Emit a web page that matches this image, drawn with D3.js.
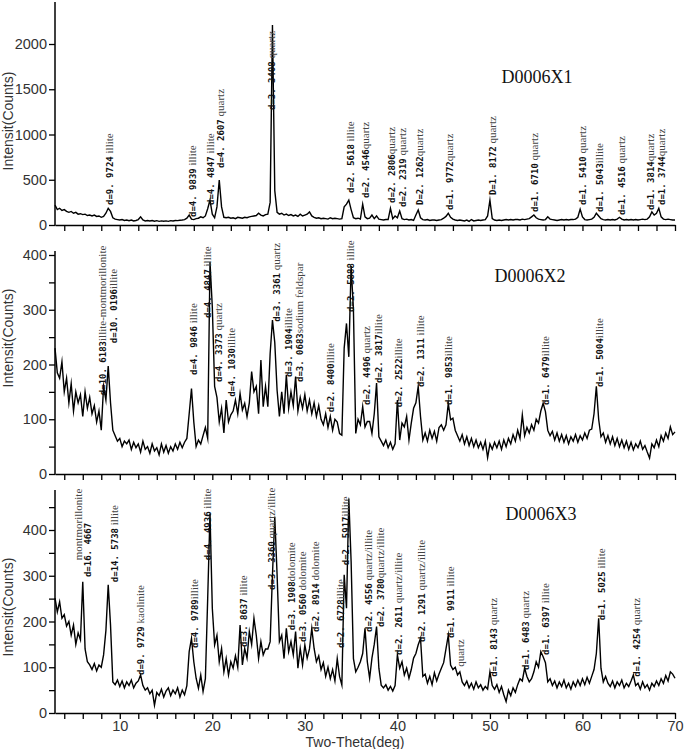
<!DOCTYPE html>
<html><head><meta charset="utf-8">
<script src="https://cdn.jsdelivr.net/npm/d3@7"></script>
<style>
body{margin:0;background:#fff}
svg{display:block}
.dsp{font-family:"DejaVu Sans Mono",monospace;font-size:9px;font-weight:bold;fill:#111}
.min{font-family:"Liberation Serif",serif;font-size:11px;fill:#444}
.tick text{font-family:"Liberation Sans",Arial,sans-serif;font-size:14.5px;fill:#333}
.ttl{font-family:"Liberation Sans",Arial,sans-serif;font-size:14px;fill:#333}
.name{font-family:"Liberation Serif",serif;font-size:18px;fill:#111}
</style>
</head><body>
<svg id="chart" width="685" height="749"></svg>
<script>
// scan: 2-theta from 3 to 70 deg, step 0.25 deg
const scanStart = 3, scanStep = 0.25;

const intensityX1 = [
220,170,185,160, 170,150,140,150, 130,140,120,125, 115,120,105,110, 100,110,95,100,
85,95,130,185, 150,80,65,60, 55,60,50,55, 48,55,45,50, 60,90,55,45,
50,45,50,42, 48,40,45,42, 45,40,48,45, 50,48,52,55, 60,75,110,65,
60,70,75,90, 80,100,180,275, 120,80,200,497, 200,85,80,85, 75,80,70,85,
80,75,85,80, 90,95,100,105, 130,110,100,115, 120,250,2210,380, 140,120,130,110,
120,105,115,100, 110,95,120,100, 110,120,145,100, 85,75,80,70, 75,70,65,80,
70,75,70,65, 70,200,230,275, 170,80,70,75, 65,230,90,70, 75,110,70,100,
65,60,55,60, 60,185,70,100, 80,155,70,60, 65,55,60,50, 110,165,80,60,
55,60,50,55, 55,50,55,60, 75,95,130,85, 65,55,50,55, 50,45,55,40,
60,45,50,55, 50,55,60,100, 275,70,55,50, 55,50,55,60, 55,60,55,60,
60,55,65,60, 65,70,90,110, 80,65,60,55, 60,90,65,60, 55,50,55,60,
55,60,55,60, 60,65,85,175, 90,60,55,60, 65,85,130,100, 70,60,55,60,
55,60,55,65, 85,65,55,60, 55,60,55,60, 55,60,65,60, 65,90,145,110,
130,185,90,65, 60,65,60,55, 55];

const intensityX2 = [
230,185,175,205, 150,175,130,165, 115,150,130,145, 105,150,120,140, 110,125,95,115,
80,160,135,197, 130,80,70,60, 65,50,60,55, 62,45,58,48, 55,40,60,45,
50,38,55,42, 48,35,55,40, 52,38,50,42, 55,45,58,48, 58,65,110,156,
95,50,62,55, 70,85,65,387, 305,160,140,95, 120,75,135,95, 108,115,135,110,
147,117,129,105, 130,187,150,160, 110,208,123,160, 123,220,281,240, 153,105,150,110,
181,120,150,125, 178,115,140,120, 145,115,135,110, 130,105,125,100, 90,110,85,105,
80,100,95,74, 71,230,275,214, 380,300,74,100, 90,123,86,96, 96,74,110,166,
68,60,52,62, 48,58,45,55, 135,62,93,86, 105,62,93,120, 130,160,105,62,
75,60,80,65, 78,60,85,90, 80,90,129,99, 102,80,70,60, 72,55,68,52,
65,50,62,48, 58,45,60,30, 55,45,58,48, 60,45,62,50, 65,55,72,60,
80,65,108,70, 85,75,90,80, 100,93,115,129, 114,80,70,78, 62,75,60,72,
58,70,55,68, 60,72,58,70, 62,75,65,80, 82,110,160,100, 68,75,58,70,
55,68,52,65, 50,62,48,60, 45,58,44,55, 48,60,45,52, 40,29,55,48,
62,50,70,60, 75,65,86,72, 77];

const intensityX3 = [
251,221,243,207, 215,190,200,170, 192,150,175,160, 287,140,112,105, 95,108,92,105,
100,127,180,280, 192,68,62,72, 58,70,55,68, 60,72,55,65, 70,83,60,50,
55,42,50,17, 45,38,52,35, 48,55,38,50, 42,55,35,50, 40,60,134,163,
112,76,54,83, 47,75,250,436, 229,149,170,112, 141,90,119,83, 112,98,125,100,
192,105,141,120, 178,150,207,170, 119,156,127,140, 140,156,302,429, 302,156,170,119,
185,134,156,127, 178,98,141,105, 149,120,140,185, 141,112,125,95, 110,80,100,75,
95,70,119,80, 61,302,229,469, 331,119,90,100, 112,130,185,112, 76,120,150,189,
98,61,55,62, 50,58,48,60, 127,98,112,83, 98,76,95,120, 130,149,163,80,
85,65,80,62, 88,70,85,98, 110,140,170,105, 95,100,83,90, 68,60,70,55,
65,52,68,55, 62,50,58,52, 90,60,52,62, 45,58,40,25, 50,38,55,45,
62,75,70,98, 80,68,75,90, 112,100,134,123, 110,68,75,60, 70,55,68,58,
72,55,65,52, 68,58,72,60, 75,62,78,65, 80,95,130,207, 98,68,80,65,
58,70,55,68, 60,72,55,65, 58,70,83,60, 65,52,68,55, 62,50,65,58,
70,60,75,65, 82,70,90,85, 76];

const sampleNames = ["D0006X1", "D0006X2", "D0006X3"];
const xTickLabels = [10, 20, 30, 40, 50, 60, 70];
const yTicksX1 = [0, 500, 1000, 1500, 2000];
const yTicksX2 = [0, 100, 200, 300, 400];
const yTicksX3 = [0, 100, 200, 300, 400];
const yTitle = "Intensit(Counts)";
const xTitle = "Two-Theta(deg)";

// peak annotations: [2-theta, counts at label foot, d-spacing, phase]
const peaksX1 = [
 [8.62, 221, "d=9. 9724", " illite"],
 [17.67, 88, "d=4. 9839", " illite"],
 [19.57, 221, "d=4. 4847", " illite"],
 [20.65, 630, "d=4. 2607", " quartz"],
 [26.17, 1271, "d=3. 3408", " quartz"],
 [34.71, 354, "d=2. 5618", " illite"],
 [36.33, 298, "d=2. 4546", "quartz"],
 [39.14, 243, "d=2. 2806", "quartz"],
 [40.30, 199, "d=2. 2319", " quartz"],
 [42.21, 221, "D=2. 1262", "quartz"],
 [45.41, 166, "d=1. 9772", "quartz"],
 [50.03, 331, "D=1. 8172", " quartz"],
 [54.64, 144, "d=1. 6710", " quartz"],
 [59.76, 221, "d=1. 5410", " quartz"],
 [61.56, 144, "d=1. 5043", "illite"],
 [63.94, 110, "d=1. 4516", " quartz"],
 [67.14, 166, "d=1. 3814", "quartz"],
 [68.33, 221, "d=1. 3744", "quartz"]
];
const peaksX2 = [
 [7.86, 144, "d=10. 6183", "illite-montmorillonite"],
 [9.05, 239, "d=10. 0196", "illite"],
 [17.78, 181, "d=4. 9846", " illite"],
 [19.22, 285, "d=4. 4847", " illite"],
 [20.48, 168, "d=4. 3373", " quartz"],
 [21.84, 141, "d=4. 1030", "illite"],
 [26.68, 278, "d=3. 3361", " quartz"],
 [28.05, 177, "d=3. 1904", "illite"],
 [29.24, 168, "d=3. 0683", "sodium feldspar"],
 [32.55, 113, "d=2. 8400", "illite"],
 [34.71, 296, "d=2. 5888", " illite"],
 [36.44, 126, "d=2. 4496", " quartz"],
 [37.78, 166, "d=2. 3817", "illite"],
 [39.94, 122, "d=2. 2522", "illite"],
 [42.28, 159, "d=2. 1311", " illite"],
 [45.34, 126, "d=1. 9853", "illite"],
 [55.79, 126, "d=1. 6479", "illite"],
 [61.56, 159, "d=1. 5004", "illite"]
];
const peaksX3 = [
 [5.27, 334, "", "montmorillonite"],
 [6.24, 297, "d=16. 4667", ""],
 [9.24, 286, "d=14. 5738", " illite"],
 [12.00, 83, "d=9. 9729", " kaolinite"],
 [17.89, 142, "d=4. 9789", "illite"],
 [19.22, 334, "d=4. 4936", " illite"],
 [23.18, 144, "d=3. 8637", " illite"],
 [26.17, 269, "d=3. 3360", " quartz/illite"],
 [28.33, 181, "d=3. 1908", "dolomite"],
 [29.49, 155, "d=3. 0560", " dolomite"],
 [30.92, 177, "d=2. 8914", " dolomite"],
 [33.63, 142, "d=2. 6728", "illite"],
 [34.14, 323, "d=2. 5917", "illite"],
 [36.62, 177, "d=2. 4556", " quartz/illite"],
 [37.95, 188, "d=2. 3780", "quartz/illite"],
 [39.94, 127, "d=2. 2611", " quartz/illite"],
 [42.38, 155, "d=2. 1291", " quartz/illite"],
 [45.52, 164, "d=1. 9911", " illite"],
 [46.54, 101, "", "quartz"],
 [50.14, 79, "d=1. 8143", " quartz"],
 [53.63, 94, "d=1. 6483", " quartz"],
 [55.79, 127, "d=1. 6397", " illite"],
 [61.84, 203, "d=1. 5025", " illite"],
 [65.59, 79, "d=1. 4254", " quartz"]
];

const svg = d3.select("#chart");
const x = d3.scaleLinear().domain([3, 70]).range([55, 675]);
const xTicks = d3.range(4, 71, 2);

const panels = [
  {data: intensityX1, name: sampleNames[0], peaks: peaksX1, ticks: yTicksX1, minor: [],
   dom: [0, 2000], rng: [225, 44], top: 2, nameX: 537, nameY: 83, titleY: 121, labels: false},
  {data: intensityX2, name: sampleNames[1], peaks: peaksX2, ticks: yTicksX2, minor: [50,150,250,350],
   dom: [0, 400], rng: [474, 255], top: 251, nameX: 530, nameY: 282, titleY: 338, labels: false},
  {data: intensityX3, name: sampleNames[2], peaks: peaksX3, ticks: yTicksX3, minor: [50,150,250,350,450],
   dom: [0, 400], rng: [713, 530], top: 490, nameX: 541, nameY: 520, titleY: 607, labels: true}
];

panels.forEach(p => {
  const y = d3.scaleLinear().domain(p.dom).range(p.rng);
  const g = svg.append("g");

  // x axis
  const xa = d3.axisBottom(x).tickValues(xTicks).tickSize(6).tickSizeOuter(0).tickPadding(2)
    .tickFormat(d => (p.labels && xTickLabels.includes(d)) ? d : "");
  const gx = g.append("g").attr("transform", `translate(0,${p.rng[0]})`).call(xa);
  gx.select(".domain").attr("stroke", "#000").attr("stroke-width", 1.5);
  gx.selectAll(".tick line").attr("stroke", "#000").attr("stroke-width", 1.3);

  // y axis
  const ya = d3.axisLeft(y).tickValues(p.ticks.concat(p.minor)).tickSize(6).tickPadding(2)
    .tickFormat(d => p.ticks.includes(d) ? d : "");
  const gy = g.append("g").attr("transform", "translate(55,0)").call(ya);
  gy.select(".domain").remove();
  gy.selectAll(".tick line").attr("stroke", "#000").attr("stroke-width", 1.3);
  g.append("line").attr("x1", 55).attr("x2", 55).attr("y1", p.rng[0] + 0.75).attr("y2", p.top)
    .attr("stroke", "#000").attr("stroke-width", 1.5);

  // pattern
  const line = d3.line()
    .x((d, i) => x(scanStart + i * scanStep))
    .y(d => y(d));
  g.append("path").datum(p.data).attr("d", line)
    .attr("fill", "none").attr("stroke", "#000").attr("stroke-width", 1.4)
    .attr("stroke-linejoin", "miter").attr("stroke-miterlimit", 10);

  // peak labels
  p.peaks.forEach(([tt, v, d, m]) => {
    const t = g.append("text")
      .attr("transform", `translate(${x(tt)},${y(v)}) rotate(-90)`)
      .attr("dy", "0.35em").style("white-space", "pre");
    if (d) t.append("tspan").attr("class", "dsp").text(d);
    if (m) t.append("tspan").attr("class", "min").text(m);
  });

  // sample name
  g.append("text").attr("class", "name").attr("x", p.nameX).attr("y", p.nameY)
    .attr("text-anchor", "middle").text(p.name);

  // y title
  g.append("text").attr("class", "ttl")
    .attr("transform", `translate(13,${p.titleY}) rotate(-90)`)
    .attr("text-anchor", "middle").text(yTitle);
});

svg.append("text").attr("class", "ttl").attr("x", 355).attr("y", 747)
  .attr("text-anchor", "middle").text(xTitle);
</script>
</body></html>
